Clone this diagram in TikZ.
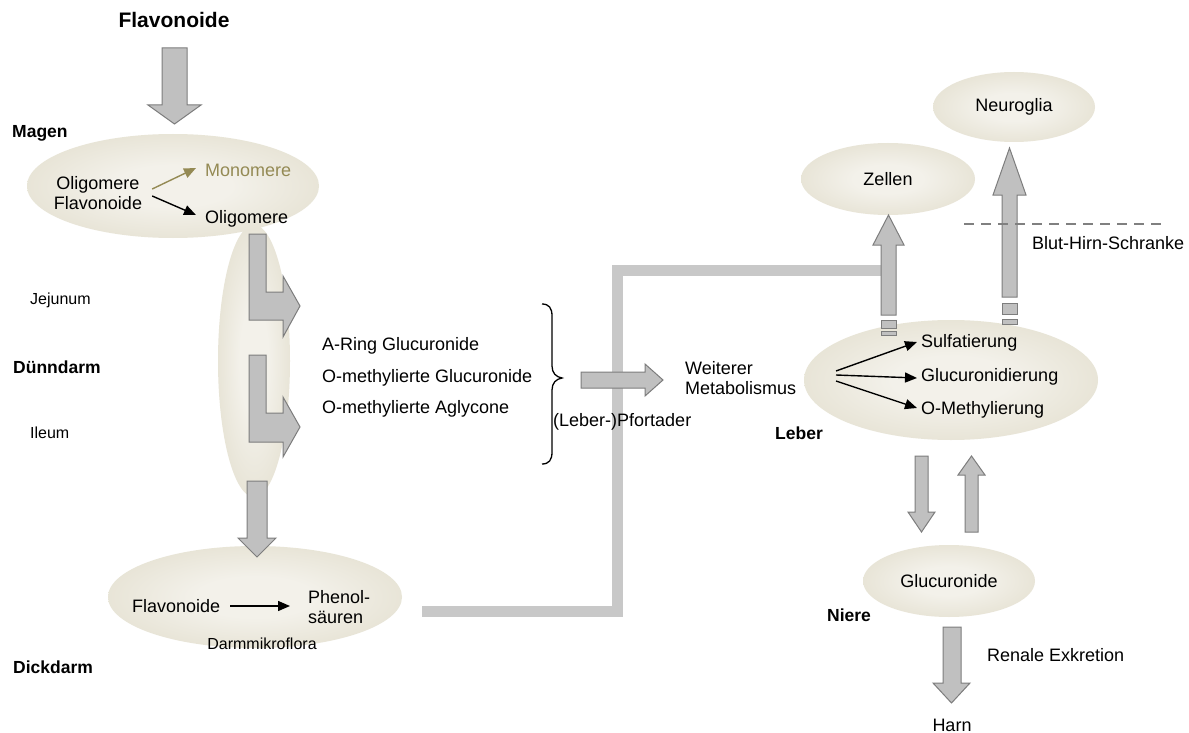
\documentclass[tikz,border=0pt]{standalone}
\usepackage{fontspec}
\setmainfont{Liberation Sans}
\usetikzlibrary{arrows.meta,shapes.geometric}
\definecolor{ellin}{RGB}{243,241,234}
\definecolor{ellout}{RGB}{214,208,184}
\definecolor{afill}{RGB}{192,192,192}
\definecolor{astroke}{RGB}{125,125,125}
\definecolor{pipec}{RGB}{200,200,200}
\definecolor{oliv}{RGB}{148,138,84}
\definecolor{dashc}{RGB}{128,128,128}
\pgfdeclareradialshading{ellsh}{\pgfpoint{0bp}{0bp}}{color(0bp)=(ellin); color(10bp)=(ellin); color(50bp)=(ellout)}
\newcommand\fnorm{\fontsize{18}{20.5}\selectfont}
\newcommand\fbold{\fontsize{17.5}{20}\selectfont\bfseries}
\newcommand\fsmall{\fontsize{16}{18}\selectfont}
\newcommand\ftitle{\fontsize{21}{24}\selectfont\bfseries}
\begin{document}
\begin{tikzpicture}[x=1pt,y=-1pt,
  ell/.style={ellipse, shade, shading=ellsh, inner sep=0pt, font=\fnorm},
  txt/.style={inner sep=0pt, font=\fnorm},
  lbl/.style={inner sep=0pt, font=\fbold, anchor=west},
  sml/.style={inner sep=0pt, font=\fsmall},
  blk/.style={fill=afill, draw=astroke, line width=1pt, line join=miter},
  conn/.style={line width=1.4pt, -{Triangle[length=12pt,width=10pt]}},
  pipe/.style={draw=pipec, line width=11pt, line join=miter}
]
\useasboundingbox (0,0) rectangle (1189,733);
\fill[white] (0,0) rectangle (1189,733);

% ellipses
\node[ell, minimum width=72, minimum height=272] (duenn) at (254,361) {};
\node[ell, minimum width=292, minimum height=104] (magen) at (173,186) {};
\node[ell, minimum width=294, minimum height=102] (dick) at (255,597) {};
\node[ell, minimum width=294, minimum height=120] (leber) at (951,380) {};
\node[ell, minimum width=174, minimum height=72] (zellen) at (888,179) {Zellen};
\node[ell, minimum width=162, minimum height=70] (neuro) at (1014,107) {Neuroglia};
\node[ell, minimum width=172, minimum height=72] (gluc) at (949,581) {Glucuronide};

% pipe (Pfortader)
\coordinate (p0) at (422,611);
\coordinate (p1) at (617,611);
\coordinate (p2) at (617,270);
\coordinate (p3) at (882,270);
\draw[pipe] (p0) -- (p1) -- (p2) -- (p3);

% title and top arrow
\node[inner sep=0pt, font=\ftitle] (title) at (174,20) {Flavonoide};
\draw[blk] (162,48) -- (187,48) -- (187,105) -- (201,105) -- (174.5,124) -- (148,105) -- (162,105) -- cycle;

% Magen
\node[lbl] (lmagen) at (12,133) {Magen};
\node[txt, align=center] (of) at (98,193) {Oligomere\\Flavonoide};
\node[txt, anchor=west, text=oliv] (mono) at (205,170) {Monomere};
\node[txt, anchor=west] (olig) at (205,219) {Oligomere};
\draw[conn, draw=oliv, fill=oliv] ([xshift=10pt,yshift=4pt]of.east) -- ([xshift=-9pt,yshift=2pt]mono.west);
\draw[conn] ([xshift=10pt,yshift=-3pt]of.east) -- ([xshift=-9pt,yshift=4pt]olig.west);

% Duenndarm L-arrows
\draw[blk] (249,234) -- (266,234) -- (266,292) -- (283,292) -- (283,276) -- (300,306) -- (283,337) -- (283,320) -- (249,320) -- cycle;
\draw[blk] (249,355) -- (266,355) -- (266,413) -- (283,413) -- (283,397) -- (300,427) -- (283,457) -- (283,442) -- (249,442) -- cycle;
\node[sml, anchor=west] (jej) at (30,300) {Jejunum};
\node[lbl] (ldd) at (13,367) {Dünndarm};
\node[sml, anchor=west] (ile) at (30,433) {Ileum};

% arrow to Dickdarm
\draw[blk] (247,481) -- (267,481) -- (267,538) -- (276,538) -- (257,557) -- (238,538) -- (247,538) -- cycle;

% Dickdarm
\node[txt, anchor=west] (fl2) at (132,606) {Flavonoide};
\node[txt, anchor=west, align=left] (phen) at (308,607) {Phenol-\\säuren};
\draw[conn] ([xshift=10pt]fl2.east) -- ([xshift=-18pt,yshift=1pt]phen.west);
\node[sml] (dmf) at (262,644) {Darmmikroflora};
\node[lbl] (ldick) at (13,667) {Dickdarm};

% list and brace
\node[txt, anchor=west] (l1) at (322,346) {A-Ring Glucuronide};
\node[txt, anchor=west] (l2) at (322,378) {O-methylierte Glucuronide};
\node[txt, anchor=west] (l3) at (322,409) {O-methylierte Aglycone};
\draw[line width=1.3pt] (542,304) .. controls (549,304) and (552,308) .. (552,316) -- (552,366)
  .. controls (552,373) and (556,377) .. (562,378)
  .. controls (556,379) and (552,383) .. (552,390) -- (552,452)
  .. controls (552,460) and (549,464) .. (542,464);

% wide arrow
\draw[blk] (581,372) -- (645,372) -- (645,364) -- (663,380) -- (645,396) -- (645,388) -- (581,388) -- cycle;
\node[txt, anchor=west] (pfort) at (553,422) {(Leber-)Pfortader};
\node[txt, anchor=west, align=left] (weit) at (685,378) {Weiterer\\Metabolismus};

% Leber
\node[txt, anchor=west] (sulf) at (921,343) {Sulfatierung};
\node[txt, anchor=west] (glucd) at (921,377) {Glucuronidierung};
\node[txt, anchor=west] (ometh) at (921,410) {O-Methylierung};
\coordinate (lsrc) at (836,375);
\draw[conn] ([yshift=4pt]lsrc) -- ([xshift=-4pt,yshift=1pt]sulf.west);
\draw[conn] (lsrc) -- ([xshift=-4pt,yshift=-1pt]glucd.west);
\draw[conn] ([yshift=-6pt]lsrc) -- ([xshift=-4pt,yshift=2pt]ometh.west);
\node[lbl] (lleber) at (775,433) {Leber};

% Zellen arrow
\draw[blk] (881,315) -- (881,245) -- (873,245) -- (888.5,215) -- (904,245) -- (896,245) -- (896,315) -- cycle;
\draw[blk] (881,320) rectangle (896,328);
\draw[blk] (881,331) rectangle (896,335);

% Neuroglia arrow
\draw[blk] (1002,297) -- (1002,195) -- (993,195) -- (1009.5,148) -- (1026,195) -- (1017,195) -- (1017,297) -- cycle;
\draw[blk] (1002,303) rectangle (1017,314);
\draw[blk] (1002,319) rectangle (1017,324);

% Blut-Hirn-Schranke
\coordinate (bh0) at (964,224);
\coordinate (bh1) at (1162,224);
\draw[dashc, line width=2pt, dash pattern=on 10pt off 7pt] (bh0) -- (bh1);
\node[txt, anchor=west] (bhs) at (1032,243) {Blut-Hirn-Schranke};

% Leber <-> Niere
\draw[blk] (915,456) -- (928,456) -- (928,512) -- (935,512) -- (921.5,532) -- (908,512) -- (915,512) -- cycle;
\draw[blk] (965,532) -- (965,475) -- (958,475) -- (971.5,456) -- (985,475) -- (978,475) -- (978,532) -- cycle;
\node[lbl] (lniere) at (827,615) {Niere};

% excretion
\draw[blk] (943,627) -- (961,627) -- (961,683) -- (970,683) -- (951.5,703) -- (933,683) -- (943,683) -- cycle;
\node[txt, anchor=west] (renal) at (987,655) {Renale Exkretion};
\node[txt] (harn) at (952,725) {Harn};
\end{tikzpicture}
\end{document}
